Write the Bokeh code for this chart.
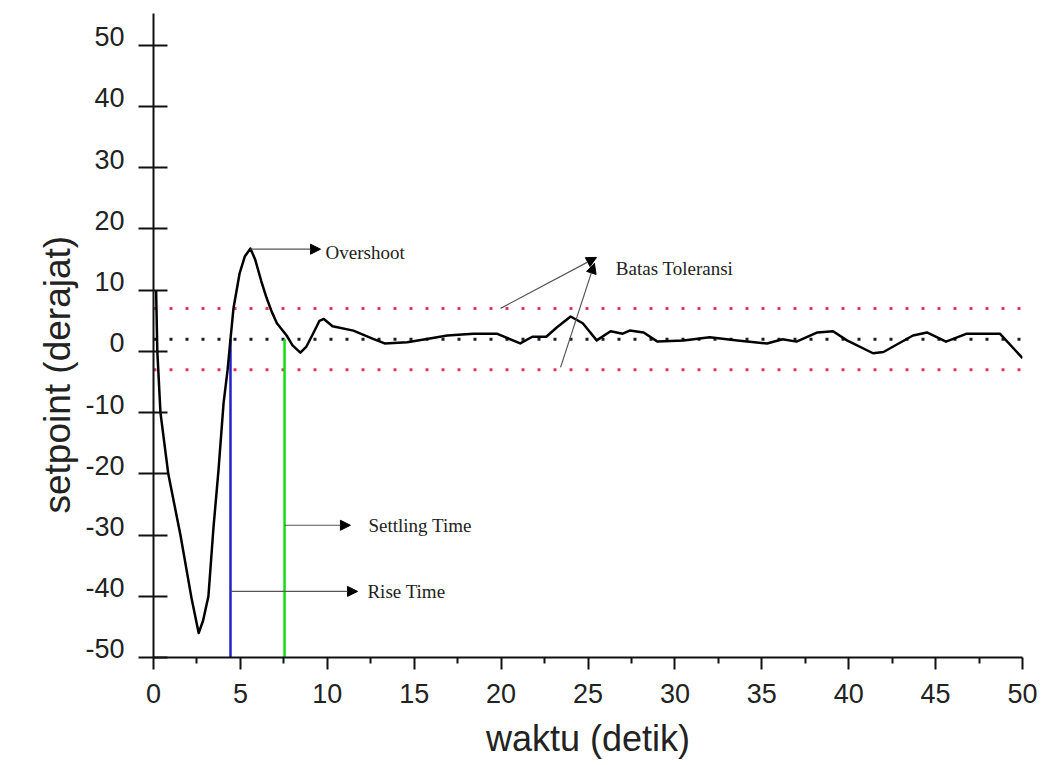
from bokeh.plotting import figure
from bokeh.models import Range1d, FixedTicker, Label, Arrow, NormalHead, LinearAxis, Title
from bokeh.embed import file_html
from bokeh.resources import INLINE

# ---- data ----
time_s = [0.15, 0.22, 0.4, 0.85, 1.55, 2.2, 2.6, 2.85, 3.16, 3.45, 3.74, 4.03, 4.26, 4.43,
          4.6, 4.95, 5.25, 5.58, 5.85, 6.2, 6.5, 6.8, 7.1, 7.66, 8.0, 8.45, 8.8, 9.2,
          9.55, 9.8, 10.3, 11.5, 12.6, 13.3, 14.6, 15.9, 16.9, 18.4, 19.75, 21.1,
          21.8, 22.6, 23.2, 24.0, 24.7, 25.5, 26.3, 27.0, 27.4, 28.2, 29.0, 30.5,
          32.0, 33.6, 35.3, 36.2, 37.0, 38.2, 39.1, 39.9, 41.4, 42.0, 43.7, 44.5,
          45.6, 46.8, 48.7, 50.0]
angle_deg = [10.0, 0.0, -10.0, -20.0, -30.0, -40.5, -46.0, -44.0, -40.0, -28.8, -19.4, -8.5, -3.1, 2.0,
             7.0, 12.7, 15.5, 16.8, 15.0, 11.5, 8.8, 6.5, 4.6, 2.6, 1.0, -0.2, 0.8, 3.0,
             5.0, 5.3, 4.1, 3.4, 2.1, 1.3, 1.5, 2.1, 2.6, 2.9, 2.9, 1.3,
             2.4, 2.4, 3.9, 5.7, 4.6, 1.8, 3.3, 2.9, 3.4, 3.1, 1.6, 1.8,
             2.3, 1.8, 1.3, 2.0, 1.6, 3.1, 3.3, 1.8, -0.3, -0.1, 2.6, 3.1,
             1.6, 2.9, 2.9, -1.1]

setpoint = 2.0
tol_upper = 7.0
tol_lower = -3.0
rise_time = 4.43
settling_time = 7.54

x_ticks = [0, 5, 10, 15, 20, 25, 30, 35, 40, 45, 50]
x_minor = [2.5, 7.5, 12.5, 17.5, 22.5, 27.5, 32.5, 37.5, 42.5, 47.5]
y_ticks = [-50, -40, -30, -20, -10, 0, 10, 20, 30, 40, 50]
y_tick_labels = ["-50", "-40", "-30", "-20", "-10", "0", "10", "20", "30", "40", "50"]

x_label = "waktu (detik)"
y_label = "setpoint (derajat)"

# annotation texts and anchors (data units)
ann_texts = ["Overshoot", "Settling Time", "Rise Time", "Batas Toleransi"]
ann_text_x = [9.9, 12.37, 12.31, 26.6]
ann_text_y = [16.2, -28.4, -39.2, 13.6]
arrow_x0 = [5.58, 7.54, 4.43, 19.97, 23.42]
arrow_y0 = [16.7, -28.4, -39.2, 7.03, -2.61]
arrow_x1 = [9.61, 11.33, 11.74, 25.49, 25.37]
arrow_y1 = [16.7, -28.4, -39.2, 15.36, 14.38]

W, H = 1045, 765
p = figure(width=W, height=H, output_backend="svg", toolbar_location=None,
           title=None, x_range=Range1d(0, 50), y_range=Range1d(-50, 55.2),
           min_border_left=153, min_border_right=23, min_border_top=13,
           min_border_bottom=108)
p.outline_line_color = None
p.grid.visible = False
p.background_fill_color = "white"
p.border_fill_color = "white"

tick_font = "Liberation Sans"
ink = "#111111"
txt = "#222222"

xa = p.xaxis[0]
xa.ticker = FixedTicker(ticks=x_ticks, minor_ticks=x_minor)
xa.axis_line_width = 2
xa.axis_line_color = ink
xa.major_tick_line_width = 2
xa.minor_tick_line_width = 2
xa.major_tick_line_color = ink
xa.minor_tick_line_color = ink
xa.major_tick_out = 12
xa.major_tick_in = 0
xa.minor_tick_out = 6
xa.minor_tick_in = 0
xa.major_label_text_font = tick_font
xa.major_label_text_font_size = "27px"
xa.major_label_text_color = txt
xa.major_label_standoff = 14
xa.axis_label = x_label
xa.axis_label_text_font = tick_font
xa.axis_label_text_font_size = "36px"
xa.axis_label_text_font_style = "normal"
xa.axis_label_text_color = txt
xa.axis_label_standoff = 12

# y axis: line + ticks only (labels drawn by a second axis, sitting just above each tick)
ya = p.yaxis[0]
ya.ticker = FixedTicker(ticks=y_ticks, minor_ticks=[])
ya.axis_line_width = 2
ya.axis_line_color = ink
ya.major_tick_line_width = 2
ya.major_tick_line_color = ink
ya.major_tick_out = 15
ya.major_tick_in = 14
ya.minor_tick_out = 0
ya.minor_tick_in = 0
ya.major_label_text_font_size = "1px"
ya.major_label_text_color = None
ya.major_label_standoff = 0

label_lift = 1.4  # tick labels sit on the tick (baseline at tick), in data units
lifted = [t + label_lift for t in y_ticks]
ylab_axis = LinearAxis(ticker=FixedTicker(ticks=lifted, minor_ticks=[]),
                       major_label_overrides={v: s for v, s in zip(lifted, y_tick_labels)})
ylab_axis.axis_line_color = None
ylab_axis.major_tick_line_color = None
ylab_axis.minor_tick_line_color = None
ylab_axis.major_tick_out = 0
ylab_axis.major_tick_in = 0
ylab_axis.minor_tick_out = 0
ylab_axis.minor_tick_in = 0
ylab_axis.major_label_text_font = tick_font
ylab_axis.major_label_text_font_size = "27px"
ylab_axis.major_label_text_color = txt
ylab_axis.major_label_standoff = 14
p.add_layout(ylab_axis, "left")

p.add_layout(Title(text=y_label, align="left", offset=144, text_font=tick_font,
                   text_font_size="37px", text_font_style="normal", text_color=txt), "left")

# tolerance and setpoint dotted lines
p.line([0, 50], [tol_upper, tol_upper], line_color="#e03c5a", line_width=3, line_dash="3 13")
p.line([0, 50], [tol_lower, tol_lower], line_color="#e03c5a", line_width=3, line_dash="3 13")
p.line([0, 50], [setpoint, setpoint], line_color="#1a1a33", line_width=3, line_dash="3 13")

# rise / settling time markers
p.line([rise_time, rise_time], [setpoint, -50], line_color="#2222cc", line_width=2.5)
p.line([settling_time, settling_time], [setpoint, -50], line_color="#11dd11", line_width=2.5)

# response curve
p.line(time_s, angle_deg, line_color="black", line_width=2.5, line_join="round")

# arrows
for xs, ys, xe, ye in zip(arrow_x0, arrow_y0, arrow_x1, arrow_y1):
    p.add_layout(Arrow(x_start=xs, y_start=ys, x_end=xe, y_end=ye,
                       line_color="#555555", line_width=1.2,
                       end=NormalHead(size=10, fill_color="black", line_color="black")))

for t, tx, ty in zip(ann_texts, ann_text_x, ann_text_y):
    p.add_layout(Label(x=tx, y=ty, text=t, text_font="Liberation Serif",
                       text_font_size="19px", text_color=txt,
                       text_align="left", text_baseline="middle"))

open("out.html", "w").write(file_html(p, INLINE))
